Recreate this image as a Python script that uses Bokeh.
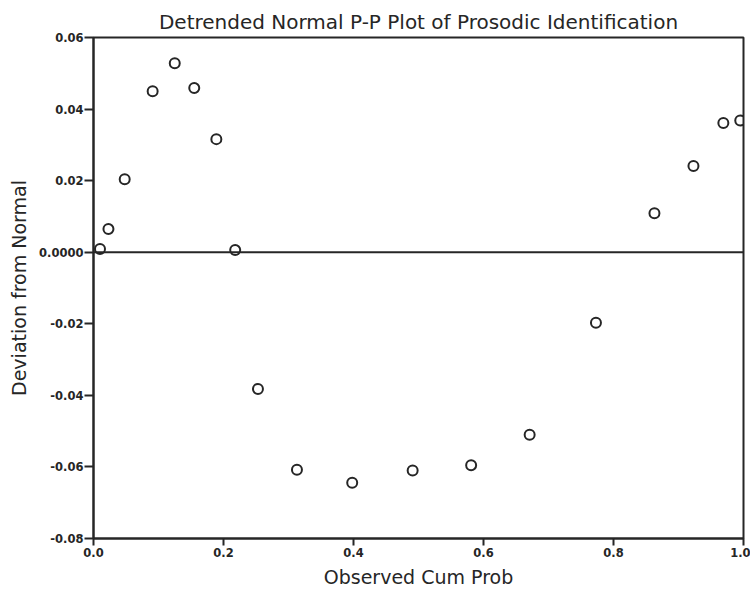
from bokeh.plotting import figure
from bokeh.models import Range1d, FixedTicker, Span
from bokeh.embed import file_html
from bokeh.resources import INLINE

obs_cum_prob = [0.010, 0.023, 0.048, 0.091, 0.125, 0.155, 0.189, 0.218, 0.253, 0.313,
                0.398, 0.491, 0.581, 0.671, 0.773, 0.863, 0.923, 0.969, 0.995]
deviation = [0.0009, 0.0065, 0.0204, 0.0450, 0.0528, 0.0459, 0.0316, 0.0006, -0.0382, -0.0608,
             -0.0644, -0.0610, -0.0595, -0.0510, -0.0197, 0.0109, 0.0241, 0.0361, 0.0368]

x_ticks = [0.0, 0.2, 0.4, 0.6, 0.8, 1.0]
x_tick_labels = ["0.0", "0.2", "0.4", "0.6", "0.8", "1.0"]
y_ticks = [-0.08, -0.06, -0.04, -0.02, 0.0, 0.02, 0.04, 0.06]
y_tick_labels = ["-0.08", "-0.06", "-0.04", "-0.02", "0.0000", "0.02", "0.04", "0.06"]

title_text = "Detrended Normal P-P Plot of Prosodic Identification"
x_label = "Observed Cum Prob"
y_label = "Deviation from Normal"

INK = "#262626"
FONT = "DejaVu Sans"

p = figure(width=750, height=590, output_backend="svg", toolbar_location=None,
           x_range=Range1d(0, 1.0), y_range=Range1d(-0.08, 0.06),
           title=title_text, min_border_left=93, min_border_right=7,
           min_border_top=37, min_border_bottom=51)

p.title.text_font = FONT
p.title.text_font_size = "20px"
p.title.text_font_style = "normal"
p.title.align = "center"
p.title.text_color = INK
p.title.standoff = 7

p.grid.visible = False
p.outline_line_color = INK
p.outline_line_width = 2
p.background_fill_color = "white"
p.border_fill_color = "white"

for ax, ticks, labels in ((p.xaxis[0], x_ticks, x_tick_labels), (p.yaxis[0], y_ticks, y_tick_labels)):
    ax.ticker = FixedTicker(ticks=ticks)
    ax.major_label_overrides = dict(zip(ticks, labels))
    ax.minor_tick_line_color = None
    ax.major_tick_in = 0
    ax.axis_line_color = INK
    ax.axis_line_width = 2
    ax.major_tick_line_color = INK
    ax.major_tick_line_width = 2
    ax.major_label_text_font = FONT
    ax.major_label_text_font_style = "bold"
    ax.major_label_text_font_size = "11.5px"
    ax.major_label_text_color = INK
    ax.axis_label_text_font = FONT
    ax.axis_label_text_font_style = "normal"
    ax.axis_label_text_font_size = "19px"
    ax.axis_label_text_color = INK

p.xaxis.major_tick_out = 7
p.xaxis.major_label_standoff = 2
p.xaxis.axis_label = x_label
p.xaxis.axis_label_standoff = 6
p.yaxis.major_tick_out = 9
p.yaxis.major_label_standoff = 1
p.yaxis.axis_label = y_label
p.yaxis.axis_label_standoff = 6

p.add_layout(Span(location=0, dimension="width", line_color=INK, line_width=2))

p.scatter(obs_cum_prob, deviation, size=10, marker="circle", fill_color=None,
          line_color=INK, line_width=2)

open("out.html", "w").write(file_html(p, INLINE))
